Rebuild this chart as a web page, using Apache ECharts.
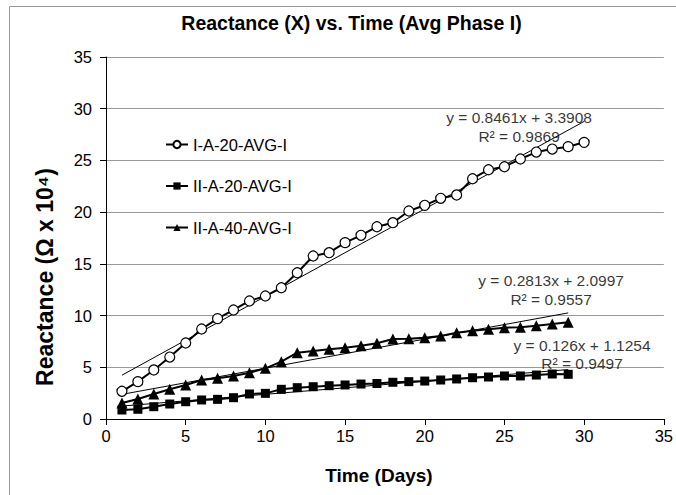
<!DOCTYPE html>
<html><head><meta charset="utf-8">
<script src="https://cdn.jsdelivr.net/npm/echarts@6/dist/echarts.min.js"></script>
<style>html,body{margin:0;padding:0;background:#fff}#c{width:676px;height:495px}</style>
</head><body><div id="c"></div>
<script>
// ---- data ----
const seriesNames = ['I-A-20-AVG-I', 'II-A-20-AVG-I', 'II-A-40-AVG-I'];
const daysIA20 = [1,2,3,4,5,6,7,8,9,10,11,12,13,14,15,16,17,18,19,20,21,22,23,24,25,26,27,28,29,30];
const daysIIA = [1,2,3,4,5,6,7,8,9,10,11,12,13,14,15,16,17,18,19,20,21,22,23,24,25,26,27,28,29];
const valsIA20 = [2.68,3.61,4.74,5.99,7.35,8.70,9.70,10.54,11.41,11.89,12.69,14.14,15.76,16.08,17.05,17.76,18.59,18.98,20.11,20.66,21.34,21.66,23.23,24.10,24.39,25.14,25.81,26.10,26.33,26.75];
const valsIIA20 = [0.87,0.94,1.19,1.45,1.67,1.84,1.90,2.06,2.42,2.48,2.87,3.03,3.12,3.22,3.29,3.38,3.43,3.55,3.61,3.67,3.77,3.87,3.99,4.06,4.16,4.16,4.25,4.35,4.32];
const valsIIA40 = [1.55,1.93,2.42,2.87,3.29,3.77,3.94,4.16,4.48,4.90,5.54,6.41,6.57,6.74,6.89,7.09,7.32,7.73,7.76,7.86,8.02,8.34,8.54,8.67,8.83,8.87,9.02,9.18,9.35];
const trendSlopes = [0.8461, 0.126, 0.2813];
const trendIntercepts = [3.3908, 1.1254, 2.0997];
const trendR2 = [0.9869, 0.9497, 0.9557];
const axisMin = 0, axisMax = 35, axisStep = 5;
const titleText = 'Reactance (X) vs. Time (Avg Phase I)';
const xTitle = 'Time (Days)';
const yTitle = 'Reactance (\u03A9 x 10\u2074)';

// ---- layout (not data) ----
const eqAnchors = [[25.92, 28.26], [29.87, 6.24], [27.93, 12.47]];
const symbols = ['circle', 'rect', 'triangle'];
const symbolSizes = [10, 9, 11];
const days = [daysIA20, daysIIA, daysIIA];
const vals = [valsIA20, valsIIA20, valsIIA40];

const FONT = 'Liberation Sans, Arial, sans-serif';
const chart = echarts.init(document.getElementById('c'), null, {renderer: 'svg'});

const series = [];
// trend lines
for (let i = 0; i < 3; i++) {
  const d = days[i];
  const x0 = d[0], x1 = d[d.length - 1];
  series.push({
    type: 'line', name: 'trend' + i, silent: true, symbol: 'none', z: 2,
    lineStyle: {color: '#000', width: 1},
    data: [[x0, trendSlopes[i] * x0 + trendIntercepts[i]], [x1, trendSlopes[i] * x1 + trendIntercepts[i]]]
  });
}
// data lines
for (let i = 0; i < 3; i++) {
  series.push({
    type: 'line', name: seriesNames[i], z: 3,
    symbol: symbols[i], symbolSize: symbolSizes[i], showAllSymbol: true,
    lineStyle: {color: '#000', width: 2},
    itemStyle: i === 0 ? {color: '#fff', borderColor: '#000', borderWidth: 1.2} : {color: '#000', borderWidth: 0},
    data: days[i].map((x, k) => [x, vals[i][k]])
  });
}
// equation labels
series.push({
  type: 'scatter', name: 'eq', silent: true, z: 5,
  symbolSize: 0.1, itemStyle: {color: 'transparent'},
  label: {
    show: true, position: 'inside', color: '#000', fontFamily: FONT, fontSize: 15.5, lineHeight: 18.7,
    align: 'center', verticalAlign: 'middle',
    formatter: p => 'y = ' + trendSlopes[p.dataIndex] + 'x + ' + trendIntercepts[p.dataIndex] + '\nR\u00B2 = ' + trendR2[p.dataIndex]
  },
  data: eqAnchors
});

chart.setOption({
  animation: false,
  backgroundColor: '#fff',
  grid: {left: 106, right: 7, top: 57, bottom: 76, containLabel: false},
  xAxis: {
    type: 'value', min: axisMin, max: axisMax, interval: axisStep,
    axisLine: {show: true, lineStyle: {color: '#000', width: 1}},
    axisTick: {show: true, inside: false, length: 6, lineStyle: {color: '#000'}},
    axisLabel: {color: '#000', fontFamily: FONT, fontSize: 16.5, margin: 8},
    splitLine: {show: false}
  },
  yAxis: {
    type: 'value', min: axisMin, max: axisMax, interval: axisStep,
    axisLine: {show: true, lineStyle: {color: '#000', width: 1}},
    axisTick: {show: true, inside: false, length: 6, lineStyle: {color: '#000'}},
    axisLabel: {color: '#000', fontFamily: FONT, fontSize: 16.5, margin: 14},
    splitLine: {show: true, lineStyle: {color: '#999', width: 1}}
  },
  legend: {
    orient: 'vertical', left: 160, top: 131, itemGap: 24.5, itemWidth: 22, itemHeight: 9,
    data: seriesNames,
    textStyle: {color: '#000', fontFamily: FONT, fontSize: 16.5}
  },
  graphic: [
    {type: 'rect', shape: {x: 9.5, y: 6.5, width: 1000, height: 1000}, style: {fill: 'none', stroke: '#999', lineWidth: 1}, z: -10, silent: true},
    {type: 'text', x: 351.5, y: 22.5, style: {text: titleText, font: 'bold 19.5px ' + FONT, fill: '#000', textAlign: 'center', textVerticalAlign: 'middle'}},
    {type: 'text', x: 379, y: 475, style: {text: xTitle, font: 'bold 19px ' + FONT, fill: '#000', textAlign: 'center', textVerticalAlign: 'middle'}},
    {type: 'text', x: 44.5, y: 277, rotation: Math.PI / 2, style: {text: yTitle, font: 'bold 23px ' + FONT, fill: '#000', textAlign: 'center', textVerticalAlign: 'middle'}}
  ],
  series: series
});
</script></body></html>
